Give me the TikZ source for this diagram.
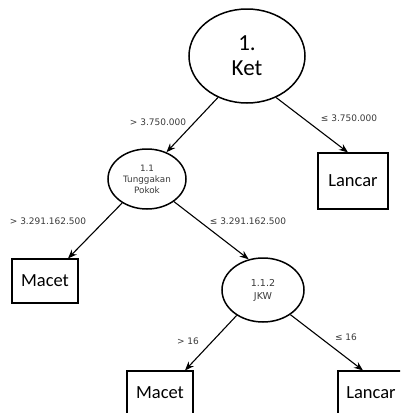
\documentclass[tikz,border=0pt]{standalone}
\usepackage{fontspec}
\setmainfont{Carlito}
\newfontfamily\labfont{DejaVu Sans}
\usetikzlibrary{shapes.geometric,arrows.meta}
\definecolor{labgray}{HTML}{3A3A3A}
\tikzset{
  decision/.style={ellipse,draw,line width=1.5pt,inner sep=0pt,align=center},
  leafbox/.style={rectangle,draw,line width=1.1pt,inner sep=0pt,font=\fontsize{18.5}{22}\selectfont},
  edgelabel/.style={inner sep=0pt,text=labgray,font=\labfont\fontsize{9}{10}\selectfont},
  arr/.style={line width=1.1pt,-{Stealth[length=9pt,width=7pt]}}
}
\begin{document}
\begin{tikzpicture}[x=1pt,y=-1pt]
\useasboundingbox (0,0) rectangle (400,413);
\clip (0,0) rectangle (400,413);
\node[decision,minimum width=116pt,minimum height=94pt,font=\fontsize{23}{25}\selectfont] (root) at (247,56) {1.\\Ket};
\node[decision,minimum width=78pt,minimum height=60pt,text=labgray,font=\labfont\fontsize{8.8}{11}\selectfont] (n11) at (147,179) {1.1\\Tunggakan\\Pokok};
\node[decision,minimum width=82pt,minimum height=64pt,text=labgray,font=\labfont\fontsize{9.5}{13}\selectfont] (jkw) at (263,290) {1.1.2\\JKW};
\node[leafbox,minimum width=70pt,minimum height=56pt] (l1) at (353,181) {Lancar};
\node[leafbox,minimum width=66pt,minimum height=44pt] (m1) at (45,281) {Macet};
\node[leafbox,minimum width=66pt,minimum height=44pt] (m2) at (160,393) {Macet};
\node[leafbox,minimum width=66pt,minimum height=44pt] (l2) at (371,393) {Lancar};
\node[edgelabel] (e1) at (158,122) {> 3.750.000};
\node[edgelabel] (e2) at (349,118) {≤ 3.750.000};
\node[edgelabel] (e3) at (48,221) {> 3.291.162.500};
\node[edgelabel] (e4) at (248,221) {≤ 3.291.162.500};
\node[edgelabel] (e5) at (188,341) {> 16};
\node[edgelabel] (e6) at (346,337) {≤ 16};
\draw[arr] (root.235) -- (n11.54);
\draw[arr] (root.305) -- ([xshift=-5pt]l1.north);
\draw[arr] (n11.224) -- ([xshift=23pt]m1.north);
\draw[arr] (n11.320) -- (jkw.115);
\draw[arr] (jkw.224) -- ([xshift=25pt]m2.north);
\draw[arr] (jkw.318) -- ([xshift=-8pt]l2.north);
\end{tikzpicture}
\end{document}
